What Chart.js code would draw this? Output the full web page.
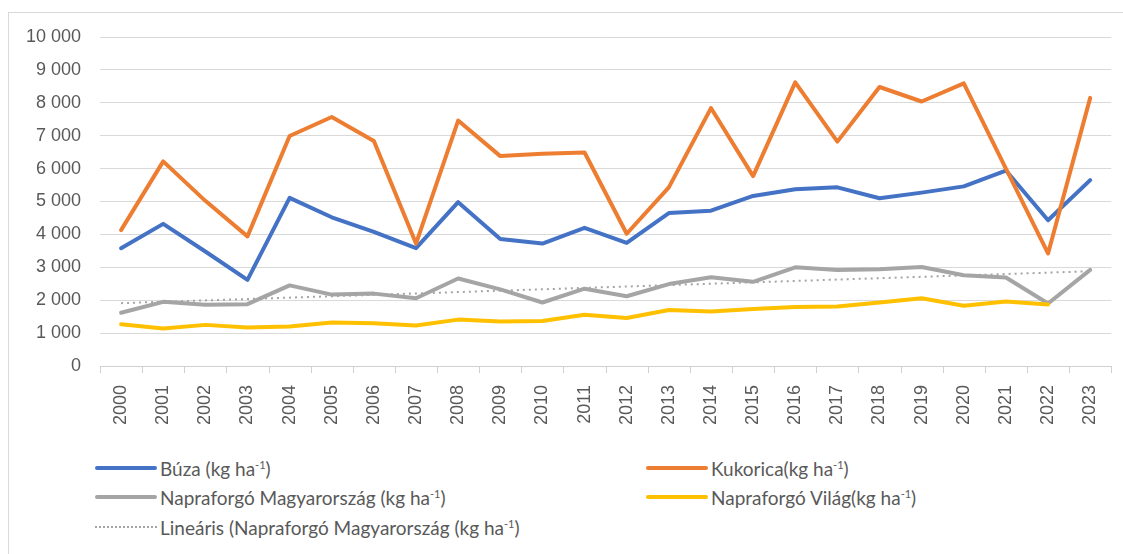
<!DOCTYPE html>
<html>
<head>
<meta charset="utf-8">
<script src="https://cdn.jsdelivr.net/npm/chart.js@4/dist/chart.umd.min.js"></script>
<style>
  html, body { margin: 0; padding: 0; background: #fff; }
  body { width: 1123px; height: 554px; position: relative; overflow: hidden; font-family: Lato, 'Open Sans', sans-serif; }
  .frame { position: absolute; left: 8px; top: 12px; width: 1140px; height: 560px; border: 1px solid #d9d9d9; box-sizing: border-box; }
  #chart-wrap { position: absolute; left: 0; top: 0; width: 1123px; height: 440px; }
  .legend-item { position: absolute; display: flex; align-items: center; color: #595959; font-size: 19px; white-space: nowrap; }
  .legend-item .swatch { width: 62px; height: 0; border-top: 4px solid; border-radius: 2px; margin-right: 3px; }
  .legend-item .swatch.dotted { border-top: 2px dotted #a5a5a5; border-radius: 0; }
  .legend-item sup { font-size: 11px; }
</style>
</head>
<body>
<div class="frame"></div>
<div id="chart-wrap"><canvas id="chart-yield"></canvas></div>
<div id="legend"></div>
<script>
const years = ['2000', '2001', '2002', '2003', '2004', '2005', '2006', '2007', '2008', '2009', '2010', '2011',
  '2012', '2013', '2014', '2015', '2016', '2017', '2018', '2019', '2020', '2021', '2022', '2023'];

const buza = [3580, 4320, 3480, 2620, 5110, 4520, 4080, 3580, 4980, 3860, 3720, 4200,
  3740, 4650, 4720, 5170, 5370, 5430, 5100, 5270, 5460, 5940, 4430, 5650];

const kukorica = [4130, 6220, 5020, 3940, 6990, 7570, 6840, 3720, 7460, 6380, 6450, 6490,
  4020, 5430, 7840, 5770, 8620, 6820, 8480, 8040, 8590, 6000, 3420, 8150];

const napraforgoHu = [1620, 1950, 1860, 1880, 2450, 2170, 2200, 2060, 2660, 2330, 1930, 2350,
  2120, 2490, 2700, 2560, 3000, 2920, 2940, 3010, 2760, 2690, 1900, 2920];

const napraforgoVilag = [1270, 1140, 1250, 1170, 1200, 1320, 1300, 1230, 1410, 1350, 1370, 1560,
  1460, 1700, 1660, 1730, 1790, 1810, 1930, 2060, 1830, 1960, 1870, null];

// linear trend of the Hungarian sunflower series, read at its two ends
const trendHu = [1910, null, null, null, null, null, null, null, null, null, null, null,
  null, null, null, null, null, null, null, null, null, null, null, 2880];

const yTicks = [0, 1000, 2000, 3000, 4000, 5000, 6000, 7000, 8000, 9000, 10000];

const seriesLabels = ['Búza', 'Kukorica', 'Napraforgó Magyarország', 'Napraforgó Világ', 'Lineáris (Napraforgó Magyarország'];
const seriesColors = ['#4472c4', '#ed7d31', '#a5a5a5', '#ffc000', '#a5a5a5'];

function fmtThousands(v) {
  return String(v).replace(/\B(?=(\d{3})+(?!\d))/g, ' ');
}

function lineSet(label, data, color, order) {
  return {
    label, data, order,
    borderColor: color, backgroundColor: color,
    borderWidth: 4, pointRadius: 0, tension: 0,
    borderCapStyle: 'round', borderJoinStyle: 'round', fill: false
  };
}

// short tick marks between categories under the x axis
const categoryTicks = {
  id: 'categoryTicks',
  afterDraw(chart) {
    const x = chart.scales.x;
    const ctx = chart.ctx;
    const bottom = chart.chartArea.bottom;
    const half = (x.getPixelForValue(1) - x.getPixelForValue(0)) / 2;
    ctx.save();
    ctx.strokeStyle = '#d0d0d0';
    ctx.lineWidth = 1;
    ctx.beginPath();
    for (let i = 0; i <= years.length; i++) {
      const px = Math.round(x.getPixelForValue(i) - half) + 0.5;
      ctx.moveTo(px, bottom);
      ctx.lineTo(px, bottom + 7);
    }
    ctx.stroke();
    ctx.restore();
  }
};

const tickFont = { family: "'Liberation Sans', Arial, sans-serif", size: 18 };
const axisGray = '#595959';

new Chart(document.getElementById('chart-yield'), {
  type: 'line',
  data: {
    labels: years,
    datasets: [
      lineSet(seriesLabels[0], buza, seriesColors[0], 4),
      lineSet(seriesLabels[1], kukorica, seriesColors[1], 3),
      lineSet(seriesLabels[2], napraforgoHu, seriesColors[2], 2),
      lineSet(seriesLabels[3], napraforgoVilag, seriesColors[3], 1),
      Object.assign(lineSet(seriesLabels[4], trendHu, seriesColors[4], 0),
        { borderWidth: 2, borderDash: [2, 4], borderCapStyle: 'butt', spanGaps: true })
    ]
  },
  plugins: [categoryTicks],
  options: {
    responsive: true, maintainAspectRatio: false, animation: false,
    layout: { padding: { top: 37, right: 10, bottom: 0, left: 0 } },
    plugins: { legend: { display: false }, tooltip: { enabled: false } },
    scales: {
      x: {
        offset: true,
        afterFit: s => { s.height = 74; },
        grid: { display: false },
        border: { display: true, color: '#d0d0d0', width: 1 },
        ticks: { color: axisGray, font: tickFont, minRotation: 90, maxRotation: 90, padding: 11, autoSkip: false }
      },
      y: {
        min: yTicks[0], max: yTicks[yTicks.length - 1],
        afterFit: s => { s.width = 100; },
        afterBuildTicks: s => { s.ticks = yTicks.map(v => ({ value: v })); },
        grid: { color: '#d9d9d9', drawTicks: false },
        border: { display: false },
        ticks: { color: axisGray, font: tickFont, padding: 19, callback: v => fmtThousands(v) }
      }
    }
  }
});

// two-column legend below the plot
const legendPos = [
  { x: 95, y: 468 }, { x: 646, y: 468 },
  { x: 95, y: 497 }, { x: 646, y: 497 },
  { x: 95, y: 527 }
];
const legendText = [
  seriesLabels[0] + ' (kg ha<sup>-1</sup>)',
  seriesLabels[1] + '(kg ha<sup>-1</sup>)',
  seriesLabels[2] + ' (kg ha<sup>-1</sup>)',
  seriesLabels[3] + '(kg ha<sup>-1</sup>)',
  seriesLabels[4] + ' (kg ha<sup>-1</sup>)'
];
document.getElementById('legend').innerHTML = legendPos.map((p, i) => {
  const dotted = i === 4;
  return `<div class="legend-item" style="left:${p.x}px;top:${p.y - 12}px;height:24px">
    <span class="swatch${dotted ? ' dotted' : ''}" style="${dotted ? '' : 'border-color:' + seriesColors[i]}"></span>
    <span>${legendText[i]}</span>
  </div>`;
}).join('');
</script>
</body>
</html>
